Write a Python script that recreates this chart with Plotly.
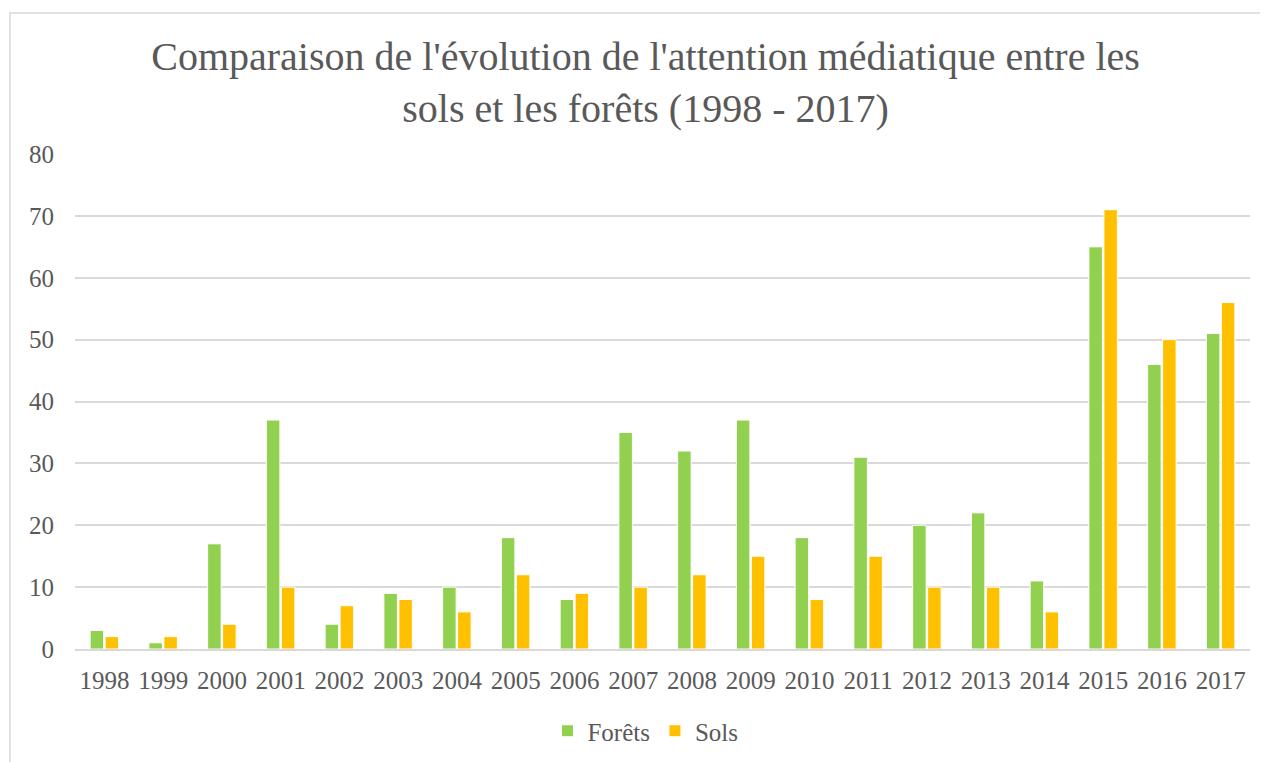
import plotly.graph_objects as go

# données
annees = [str(a) for a in range(1998, 2018)]
forets = [3, 1, 17, 37, 4, 9, 10, 18, 8, 35, 32, 37, 18, 31, 20, 22, 11, 65, 46, 51]
sols = [2, 2, 4, 10, 7, 8, 6, 12, 9, 10, 12, 15, 8, 15, 10, 10, 6, 71, 50, 56]

police = "Liberation Serif"
gris = "#595959"

# la page a une marge de 8px : figure un peu plus petite que la fenêtre
W, H = 1260, 754
ml, mt = 67, 146

fig = go.Figure()
fig.add_trace(go.Bar(x=annees, y=forets, name="Forêts",
                     marker=dict(color="#92D050", line=dict(color="white", width=1))))
fig.add_trace(go.Bar(x=annees, y=sols, name="Sols",
                     marker=dict(color="#FFC000", line=dict(color="white", width=1))))

fig.update_layout(
    width=W, height=H,
    margin=dict(l=ml, r=18, t=mt, b=113),
    paper_bgcolor="white", plot_bgcolor="white",
    barmode="group", bargap=0.49, bargroupgap=0.1,
    font=dict(family=police, color=gris, size=25),
    title=dict(text="Comparaison de l'évolution de l'attention médiatique entre les<br>sols et les forêts (1998 - 2017)",
               x=0.506, xanchor="center", y=(H - 62) / H, yanchor="middle",
               font=dict(family=police, size=40, color=gris)),
    legend=dict(orientation="h", x=0.4855, xanchor="center",
                yref="container", y=(H - 723) / H, yanchor="middle",
                font=dict(size=25, color=gris), itemwidth=30),
    xaxis=dict(showgrid=False, ticks="", ticklabelstandoff=8, showline=True,
               linecolor="#D9D9D9", linewidth=1.5, automargin=False),
    yaxis=dict(range=[0, 80], dtick=10, gridcolor="#D9D9D9", gridwidth=1.5,
               zeroline=False, ticks="", ticklabelstandoff=20, automargin=False),
    shapes=[dict(type="rect", xref="paper", yref="paper",
                 x0=(2 - ml) / 1175, x1=1.2, y0=-0.5, y1=1 + (mt - 5) / 495,
                 line=dict(color="#D9D9D9", width=1.5), layer="below")],
)

fig.write_html("out.html")
